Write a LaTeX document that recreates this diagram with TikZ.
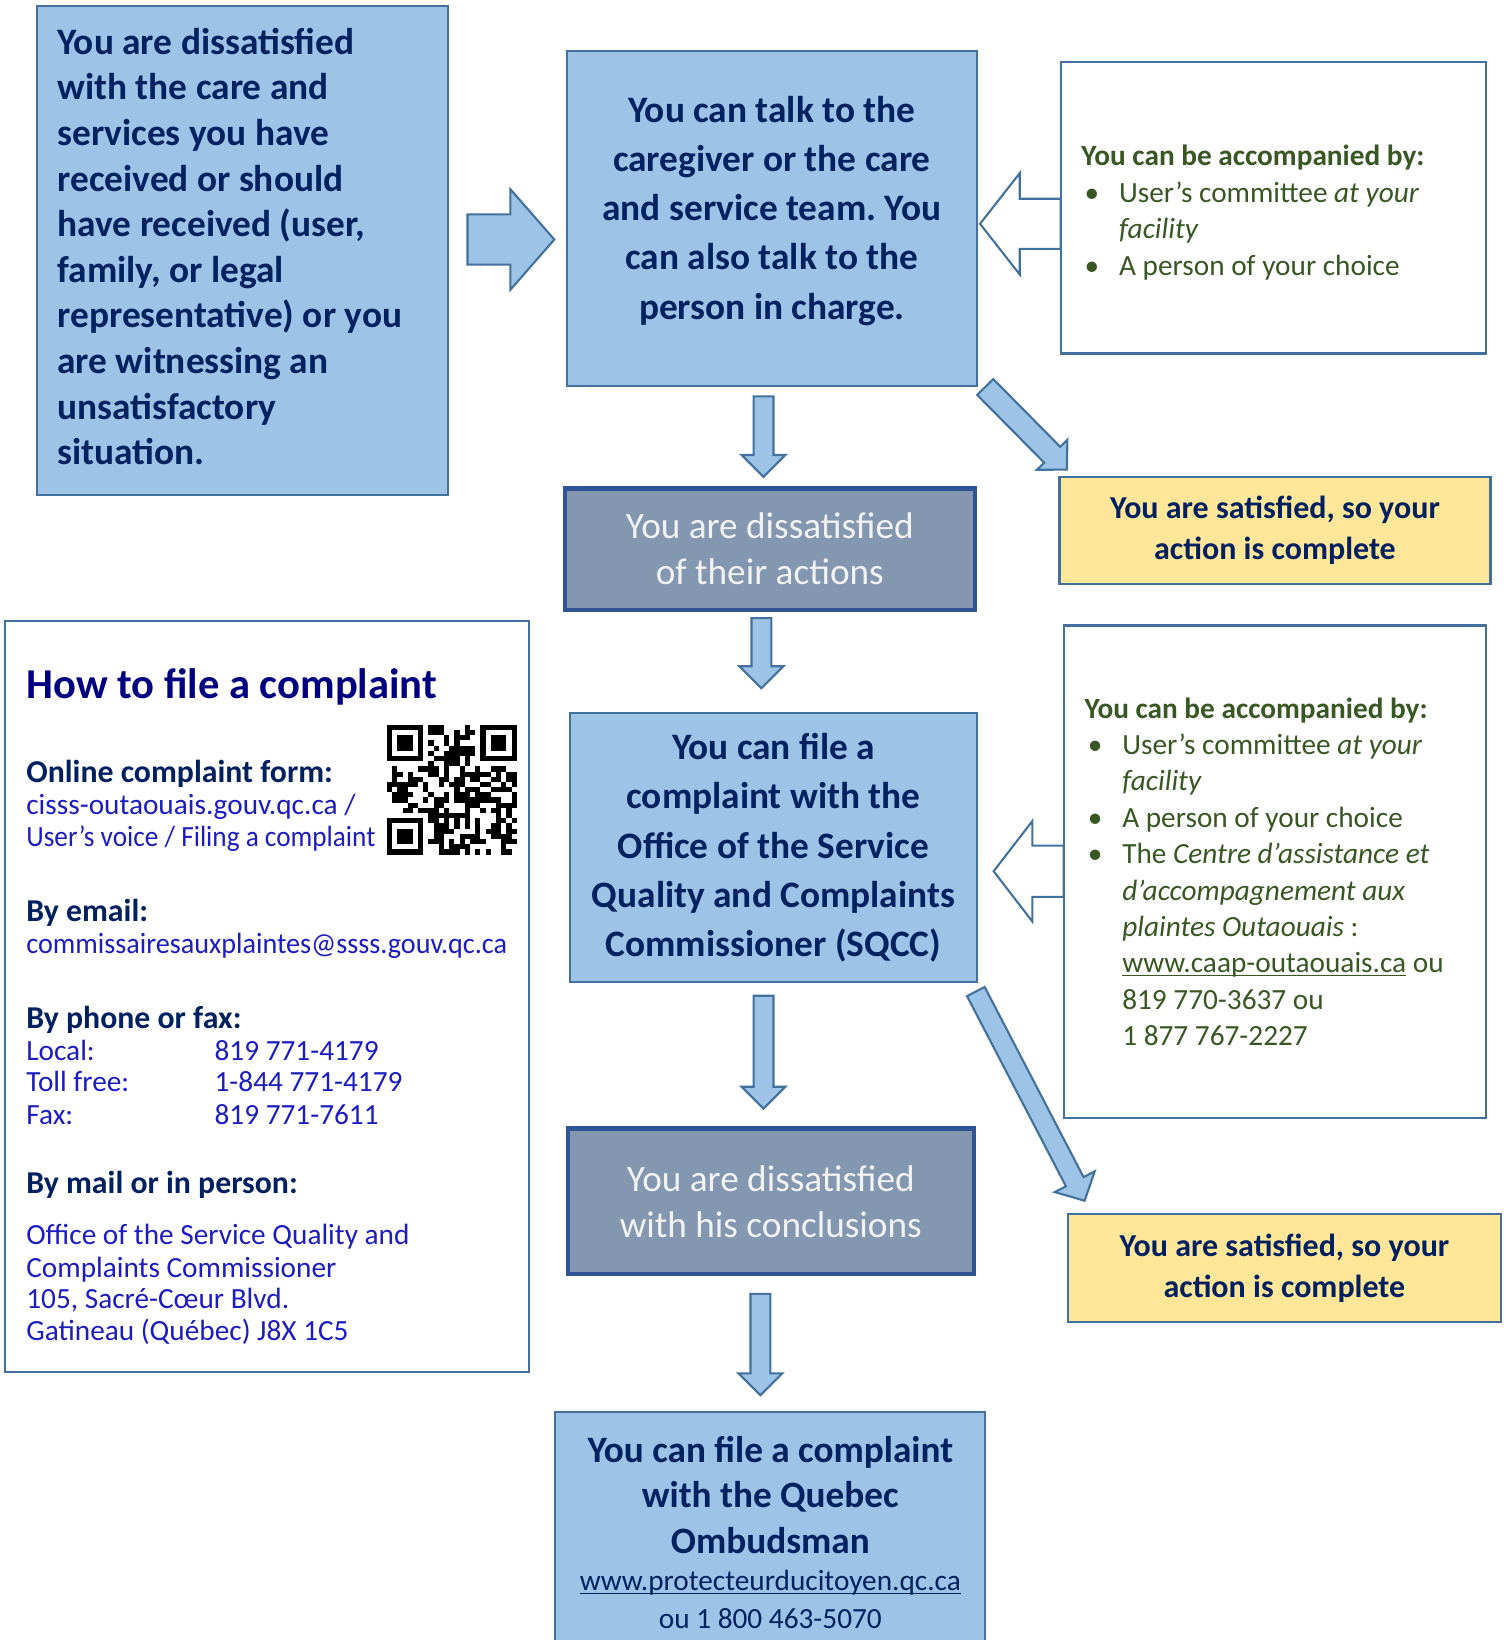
\documentclass[tikz,border=0pt]{standalone}
\usepackage{graphicx}
\usepackage{fontspec}
\setmainfont{Carlito}
\usetikzlibrary{calc}
\frenchspacing

\definecolor{boxblue}{HTML}{9DC3E6}
\definecolor{edgeblue}{HTML}{41719C}
\definecolor{textnavy}{HTML}{002060}
\definecolor{headnavy}{HTML}{000080}
\definecolor{slatefill}{HTML}{8497B0}
\definecolor{slateedge}{HTML}{2F5597}
\definecolor{paleyellow}{HTML}{FFE699}
\definecolor{leafgreen}{HTML}{385723}
\definecolor{linkblue}{HTML}{1C1CC0}
\definecolor{softwhite}{HTML}{F2F2F2}

\newcommand{\bul}{\makebox[36pt][l]{\hspace{3pt}\textbullet}}
\newcommand{\linkul}[1]{\leavevmode\setbox0\hbox{#1}\rlap{\rule[-3pt]{\wd0}{1.2pt}}\box0\relax}
% block arrow: tail, tip, shaft half width, head half width, head length
\newcommand{\blockarrow}[6][]{%
  \coordinate (hb) at ($(#3)!#6!(#2)$);
  \draw[arrowshape,#1] ($(#2)!#4!90:(#3)$) -- ($(hb)!#4!90:(#3)$) -- ($(hb)!#5!90:(#3)$)
    -- (#3) -- ($(hb)!#5!-90:(#3)$) -- ($(hb)!#4!-90:(#3)$) -- ($(#2)!#4!-90:(#3)$) -- cycle;}

\tikzset{
  leftwords/.style={execute at begin node={\raggedright\spaceskip=0pt\xspaceskip=0pt}},
  centerwords/.style={execute at begin node={\centering\spaceskip=0pt\xspaceskip=0pt}},
  bluebox/.style={draw=edgeblue, fill=boxblue, line width=2pt, text=textnavy, inner sep=0pt,
    align=center, font=\bfseries\fontsize{35.7}{47}\selectfont},
  slatebox/.style={draw=slateedge, fill=slatefill, line width=4pt, text=softwhite, inner sep=0pt,
    align=center, font=\fontsize{35.6}{44}\selectfont},
  yellowbox/.style={draw=edgeblue, fill=paleyellow, line width=2pt, text=textnavy, inner sep=0pt,
    align=center, font=\bfseries\fontsize{30.6}{39}\selectfont},
  whitebox/.style={draw=edgeblue, fill=white, line width=2pt, inner sep=0pt},
  greentext/.style={whitebox, leftwords, text=leafgreen, align=left, font=\fontsize{28}{34.8}\selectfont},
  arrowshape/.style={draw=edgeblue, fill=boxblue, line width=2pt, line join=miter},
  hollowarrow/.style={fill=white},
  howtotext/.style={anchor=base west, inner sep=0pt, text=linkblue, font=\fontsize{28}{31}\selectfont},
  howtohead/.style={howtotext, text=textnavy, font=\bfseries\fontsize{30.4}{31}\selectfont},
}

\begin{document}
\begin{tikzpicture}[x=1pt, y=-1pt]
\useasboundingbox (0,0) rectangle (1441,1568);
\clip (0,0) rectangle (1441,1568);

% Main column
\node[bluebox, leftwords, text width=353pt, align=left, minimum width=393pt, minimum height=467pt,
  font=\bfseries\fontsize{35.7}{43.6}\selectfont] (unhappy) at (231.5,239.5)
  {You are dissatisfied\\with the care and\\services you have\\received or should\\have received (user,\\family, or legal\\representative) or you\\are witnessing an\\unsatisfactory\\situation.\rule[-8pt]{0pt}{8pt}};
\node[bluebox, minimum width=392pt, minimum height=320pt] (talk) at (738,209) {};
\node[text=textnavy, align=center, inner sep=0pt, font=\bfseries\fontsize{35.7}{47}\selectfont] (talktext) at (738,201.5)
  {You can talk to the\\caregiver or the care\\and service team. You\\can also talk to the\\person in charge.};
\node[slatebox, minimum width=392pt, minimum height=116pt] (actions) at (736,525)
  {You are dissatisfied\\of their actions};
\node[bluebox, minimum width=389pt, minimum height=257pt] (sqcc) at (739.5,810.5)
  {You can file a\\complaint with the\\Office of the Service\\Quality and Complaints\\Commissioner (SQCC)};
\node[slatebox, minimum width=388pt, minimum height=139pt] (conclusions) at (737,1148.5)
  {You are dissatisfied\\with his conclusions};
\node[bluebox, centerwords, text width=400pt, minimum width=411pt, minimum height=230pt,
  font=\bfseries\fontsize{35.6}{43.5}\selectfont] (ombud) at (736.5,1465)
  {You can file a complaint\\with the Quebec\\Ombudsman\par
   {\mdseries\fontsize{28}{36}\selectfont\linkul{www.protecteurducitoyen.qc.ca}\\ou 1 800 463-5070\par}};

% Right column
\node[greentext, text width=367pt, minimum width=407pt, minimum height=279pt] (company1) at (1217.5,198.5)
  {\rule{0pt}{29pt}\textbf{You can be accompanied by:}\\
   \bul User’s committee \textit{at your}\\
   \hspace*{36pt}\textit{facility}\\
   \bul A person of your choice};
\node[yellowbox, minimum width=412pt, minimum height=102pt] (done1) at (1219,507)
  {You are satisfied, so your\\action is complete};
\node[greentext, text width=364pt, minimum width=404pt, minimum height=471pt] (company2) at (1219,833.5)
  {\textbf{You can be accompanied by:}\\
   \bul User’s committee \textit{at your}\\
   \hspace*{36pt}\textit{facility}\\
   \bul A person of your choice\\
   \bul The \textit{Centre d’assistance et}\\
   \hspace*{36pt}\textit{d’accompagnement aux}\\
   \hspace*{36pt}\textit{plaintes Outaouais} :\\
   \hspace*{36pt}\linkul{www.caap-outaouais.ca} ou\\
   \hspace*{36pt}819 770-3637 ou\\
   \hspace*{36pt}1 877 767-2227};
\node[yellowbox, minimum width=414pt, minimum height=103pt] (done2) at (1228,1212.5)
  {You are satisfied, so your\\action is complete};

% How to file a complaint
\node[whitebox, minimum width=501pt, minimum height=718pt] (howto) at (255.5,953) {};
\node[howtotext, text=headnavy, font=\bfseries\fontsize{40.7}{44}\selectfont] (howtotitle) at (25,668)
  {How to file a complaint};
\foreach \yy/\txt [count=\i] in {748/{Online complaint form:}, 881/{By email:},
    983/{By phone or fax:}, 1141/{By mail or in person:}}
  \node[howtohead] (head\i) at (25,\yy) {\txt};
\foreach \yy/\txt [count=\i] in {779/{cisss-outaouais.gouv.qc.ca /},
    809/{\scalebox{0.93}[1]{User’s voice / Filing a complaint}},
    912/{\scalebox{0.962}[1]{commissairesauxplaintes@ssss.gouv.qc.ca}}, 1190/{Office of the Service Quality and},
    1221/{Complaints Commissioner}, 1251/{105, Sacré-Cœur Blvd.}, 1282/{Gatineau (Québec) J8X 1C5}}
  \node[howtotext] (line\i) at (25,\yy) {\txt};
\foreach \yy/\lbl/\num [count=\i] in {1014/{Local:}/{819 771-4179}, 1044/{Toll free:}/{1-844 771-4179},
    1075/{Fax:}/{819 771-7611}}
{
  \node[howtotext] (lbl\i) at (25,\yy) {\lbl};
  \node[howtotext] (num\i) at (205,\yy) {\num};
}

% QR code
\pgfmathsetseed{42}
\foreach \i in {0,...,24}{
  \foreach \j in {0,...,24}{
    \pgfmathtruncatemacro{\skipit}{or(and(\i<8,\j<8), or(and(\i>16,\j<8), and(\i<8,\j>16)))}
    \pgfmathtruncatemacro{\dark}{rnd<0.55}
    \ifnum\skipit=0 \ifnum\dark=1
      \fill ({370+\i*4.96},{693+\j*4.96}) rectangle +(4.96,4.96);
    \fi\fi
  }
}
\foreach \fx/\fy in {0/0, 18/0, 0/18}{
  \fill ({370+\fx*4.96},{693+\fy*4.96}) rectangle +(34.72,34.72);
  \fill[white] ({370+(\fx+1)*4.96},{693+(\fy+1)*4.96}) rectangle +(24.8,24.8);
  \fill ({370+(\fx+2)*4.96},{693+(\fy+2)*4.96}) rectangle +(14.88,14.88);
}

% Arrows
\coordinate (go1) at (447,229);    \coordinate (go2) at (530,229);
\coordinate (help1a) at (1014,214); \coordinate (help1b) at (937,214);
\coordinate (help2a) at (1017,833); \coordinate (help2b) at (950,833);
\coordinate (down1a) at (730,379);  \coordinate (down1b) at (730,456);
\coordinate (down2a) at (728,591);  \coordinate (down2b) at (728,658);
\coordinate (down3a) at (730,952);  \coordinate (down3b) at (730,1060);
\coordinate (down4a) at (727,1237); \coordinate (down4b) at (727,1334);
\coordinate (ok1a) at (942,370);    \coordinate (ok1b) at (1020,449);
\coordinate (ok2a) at (933,948);    \coordinate (ok2b) at (1037,1148);

\blockarrow{go1}{go2}{24pt}{48pt}{42pt}
\blockarrow[hollowarrow]{help1a}{help1b}{24pt}{48.5pt}{38pt}
\blockarrow[hollowarrow]{help2a}{help2b}{24.5pt}{48pt}{37pt}
\foreach \k in {1,...,4}{
  \blockarrow{down\k a}{down\k b}{9.5pt}{21pt}{21pt}
}
\blockarrow{ok1a}{ok1b}{10.8pt}{20.5pt}{20pt}
\blockarrow{ok2a}{ok2b}{9.5pt}{21.5pt}{20.5pt}
\end{tikzpicture}
\end{document}
